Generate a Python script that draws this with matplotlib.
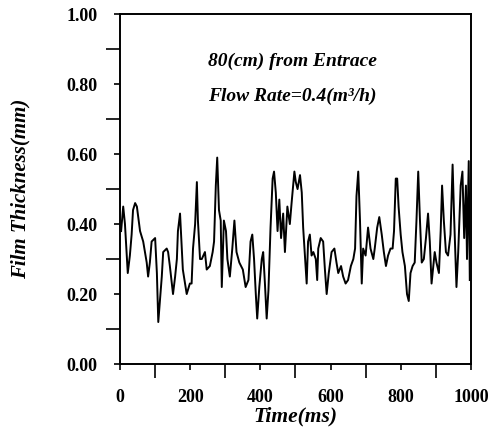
import matplotlib
matplotlib.use("Agg")
import matplotlib.pyplot as plt
from matplotlib.ticker import MultipleLocator, FormatStrFormatter

# film thickness trace, time in ms, thickness in mm
time_ms = [3, 9, 14, 22, 28, 33, 37, 43, 48, 57, 66, 76, 80, 85, 90, 100, 105, 109,
           119, 123, 133, 137, 142, 151, 157, 162, 165, 171, 176, 179, 190, 199, 204,
           208, 214, 219, 222, 228, 233, 242, 247, 256, 264, 268, 273, 277, 282, 287,
           290, 296, 302, 306, 313, 320, 326, 332, 340, 350, 358, 366, 372, 377, 382,
           387, 391, 397, 404, 408, 413, 418, 423, 429, 435, 439, 444, 449, 454, 459,
           465, 470, 477, 484, 489, 497, 501, 506, 513, 518, 522, 527, 532, 536, 541,
           546, 551, 558, 562, 565, 572, 579, 584, 589, 595, 603, 611, 617, 622, 630,
           636, 643, 650, 658, 665, 670, 674, 679, 684, 689, 693, 700, 707, 714, 722,
           726, 733, 739, 746, 752, 758, 764, 771, 777, 781, 786, 790, 794, 800, 805,
           812, 818, 823, 828, 834, 840, 845, 850, 855, 860, 866, 872, 878, 883, 888,
           893, 897, 902, 909, 914, 918, 923, 929, 935, 942, 948, 952, 959, 964, 971,
           976, 981, 986, 989, 994, 997]
thickness = [0.38, 0.45, 0.40, 0.26, 0.31, 0.37, 0.44, 0.46, 0.45, 0.38, 0.35, 0.29,
             0.25, 0.29, 0.35, 0.36, 0.26, 0.12, 0.25, 0.32, 0.33, 0.32, 0.28, 0.20,
             0.25, 0.30, 0.38, 0.43, 0.33, 0.27, 0.20, 0.23, 0.23, 0.33, 0.40, 0.52,
             0.41, 0.30, 0.30, 0.32, 0.27, 0.28, 0.32, 0.35, 0.51, 0.59, 0.44, 0.41,
             0.22, 0.41, 0.38, 0.30, 0.25, 0.33, 0.41, 0.32, 0.29, 0.27, 0.22, 0.24,
             0.35, 0.37, 0.30, 0.20, 0.13, 0.22, 0.30, 0.32, 0.23, 0.13, 0.21, 0.39,
             0.53, 0.55, 0.49, 0.38, 0.47, 0.36, 0.43, 0.32, 0.45, 0.40, 0.46, 0.55,
             0.52, 0.50, 0.54, 0.49, 0.39, 0.31, 0.23, 0.35, 0.37, 0.31, 0.32, 0.30,
             0.24, 0.33, 0.36, 0.35, 0.27, 0.20, 0.26, 0.32, 0.33, 0.29, 0.26, 0.28,
             0.25, 0.23, 0.24, 0.28, 0.30, 0.33, 0.48, 0.55, 0.41, 0.23, 0.33, 0.31,
             0.39, 0.33, 0.30, 0.33, 0.39, 0.42, 0.37, 0.32, 0.28, 0.31, 0.33, 0.33,
             0.38, 0.53, 0.53, 0.45, 0.37, 0.32, 0.28, 0.20, 0.18, 0.26, 0.28, 0.29,
             0.41, 0.55, 0.41, 0.29, 0.30, 0.36, 0.43, 0.35, 0.23, 0.28, 0.32, 0.29,
             0.26, 0.38, 0.51, 0.41, 0.32, 0.31, 0.37, 0.57, 0.43, 0.22, 0.32, 0.51,
             0.55, 0.36, 0.51, 0.30, 0.58, 0.24]

x_ticks = [0, 200, 400, 600, 800, 1000]
y_ticks = [0.0, 0.2, 0.4, 0.6, 0.8, 1.0]

serif = ["Liberation Serif", "DejaVu Serif"]
plt.rcParams["font.family"] = serif
plt.rcParams["font.weight"] = "bold"

fig = plt.figure(figsize=(4.92, 4.28), dpi=100)
ax = fig.add_axes([0.244, 0.1495, 0.713, 0.8175])

ax.plot(time_ms, thickness, color="black", linewidth=1.4)

ax.set_xlim(0, 1000)
ax.set_ylim(0, 1.0)
ax.set_xticks(x_ticks)
ax.set_yticks(y_ticks)
ax.xaxis.set_minor_locator(MultipleLocator(100))
ax.yaxis.set_minor_locator(MultipleLocator(0.1))
ax.yaxis.set_major_formatter(FormatStrFormatter("%.2f"))

ax.tick_params(which="major", direction="out", length=4, width=1.2,
               labelsize=13, pad=12, top=False, right=False)
ax.tick_params(which="minor", direction="out", length=10, width=1.2,
               top=False, right=False)
ax.tick_params(axis="x", which="major", pad=14)
for lbl in ax.get_xticklabels() + ax.get_yticklabels():
    lbl.set_fontweight("bold")

for sp in ax.spines.values():
    sp.set_linewidth(1.4)

ax.set_xlabel("Time(ms)", fontsize=15.5, fontstyle="italic", fontweight="bold",
              labelpad=0)
ax.set_ylabel("Film Thickness(mm)", fontsize=15, fontstyle="italic", fontweight="bold",
              labelpad=26)

ax.text(0.25, 0.865, "80(cm) from Entrace", transform=ax.transAxes,
        fontsize=14, fontstyle="italic", fontweight="bold", va="center")
ax.text(0.25, 0.765, "Flow Rate=0.4(m\u00b3/h)", transform=ax.transAxes,
        fontsize=14, fontstyle="italic", fontweight="bold", va="center")

fig.savefig("out.png", dpi=100)
